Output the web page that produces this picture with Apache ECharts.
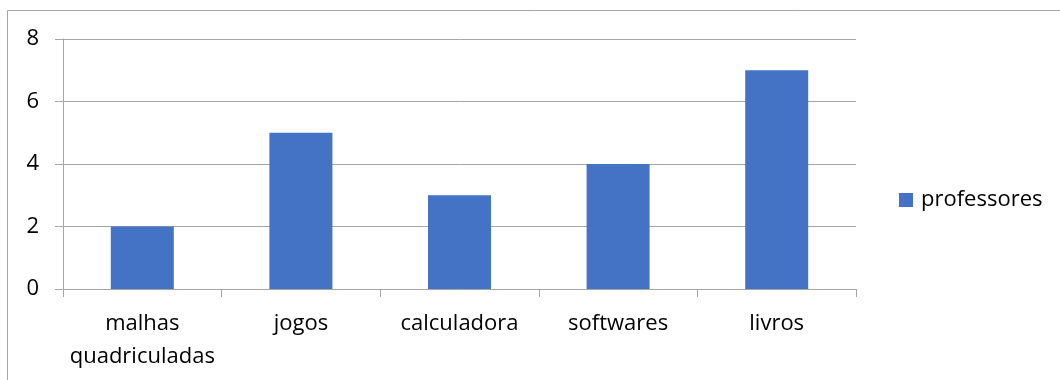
<!DOCTYPE html>
<html>
<head>
<meta charset="utf-8">
<script src="https://cdn.jsdelivr.net/npm/echarts@6/dist/echarts.min.js"></script>
<style>
  html, body { margin: 0; padding: 0; background: #fff; }
  #chart { width: 1060px; height: 380px; }
</style>
</head>
<body>
<div id="chart"></div>
<script>
// data
const categories = ['malhas\nquadriculadas', 'jogos', 'calculadora', 'softwares', 'livros']
const professores = [2, 5, 3, 4, 7]
const seriesName = 'professores'

const fontFamily = 'Open Sans'
const fontColor = '#000'
const lineColor = '#a6a6a6'

const chart = echarts.init(document.getElementById('chart'), null, { renderer: 'canvas' })

let option = {
  animation: false,
  backgroundColor: '#fff',
  textStyle: { fontFamily: fontFamily },
  graphic: [{
    type: 'rect',
    shape: { x: 7.5, y: 10.5, width: 1100, height: 400 },
    style: { fill: 'none', stroke: lineColor, lineWidth: 1 },
    silent: true
  }],
  legend: {
    left: 899,
    top: 189,
    padding: 0,
    orient: 'vertical',
    itemWidth: 14,
    itemHeight: 14,
    itemGap: 6,
    icon: 'rect',
    textStyle: { fontSize: 22, color: fontColor, fontFamily: fontFamily, padding: [0, 0, 0, 3] },
    data: [seriesName]
  },
  grid: {
    left: 63,
    top: 39,
    width: 793,
    height: 250,
    containLabel: false
  },
  xAxis: {
    type: 'category',
    data: categories,
    axisLine: { lineStyle: { color: lineColor, width: 1 } },
    axisTick: { show: true, length: 8, alignWithLabel: false, lineStyle: { color: lineColor } },
    axisLabel: {
      margin: 18,
      color: fontColor,
      fontSize: 22,
      lineHeight: 33,
      fontFamily: fontFamily,
      interval: 0
    }
  },
  yAxis: {
    type: 'value',
    min: 0,
    max: 8,
    interval: 2,
    axisLine: { show: true, lineStyle: { color: lineColor, width: 1 } },
    axisTick: { show: true, length: 8, lineStyle: { color: lineColor } },
    splitLine: { show: true, lineStyle: { color: lineColor, width: 1 } },
    axisLabel: {
      margin: 24,
      color: fontColor,
      fontSize: 22,
      fontFamily: fontFamily
    }
  },
  series: [{
    name: seriesName,
    type: 'bar',
    data: professores,
    barWidth: 63,
    itemStyle: { color: '#4472C4' }
  }]
}
chart.setOption(option)
</script>
</body>
</html>
